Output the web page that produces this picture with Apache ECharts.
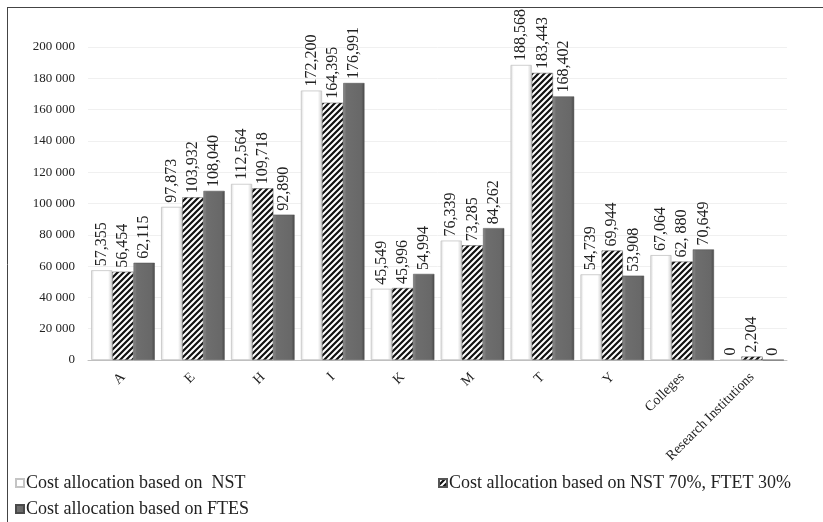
<!DOCTYPE html>
<html>
<head>
<meta charset="utf-8">
<script src="https://cdn.jsdelivr.net/npm/echarts@6/dist/echarts.min.js"></script>
<style>
  html, body { margin: 0; padding: 0; background: #fff; }
  #chart { width: 823px; height: 522px; }
</style>
</head>
<body>
<div id="chart"></div>
<script>
const categories = ['A', 'E', 'H', 'I', 'K', 'M', 'T', 'Y', 'Colleges', 'Research Institutions'];
const seriesNames = [
  'Cost allocation based on  NST',
  'Cost allocation based on NST 70%, FTET 30%',
  'Cost allocation based on FTES'
];
const nstValues = [57355, 97873, 112564, 172200, 45549, 76339, 188568, 54739, 67064, 0];
const mixValues = [56454, 103932, 109718, 164395, 45996, 73285, 183443, 69944, 62880, 2204];
const ftesValues = [62115, 108040, 92890, 176991, 54994, 84262, 168402, 53908, 70649, 0];
// the source prints one label with a stray space
const mixLabelText = { 8: '62, 880' };
const yTicks = { min: 0, max: 200000, interval: 20000 };

const serif = '"Liberation Serif", "DejaVu Serif", serif';

// diagonal hatch for the middle series
function hatchPattern() {
  const c = document.createElement('canvas');
  c.width = 6; c.height = 6;
  const ctx = c.getContext('2d');
  ctx.fillStyle = '#fff';
  ctx.fillRect(0, 0, 6, 6);
  ctx.strokeStyle = '#111';
  ctx.lineWidth = 2.2;
  ctx.beginPath();
  ctx.moveTo(-1, 7); ctx.lineTo(7, -1);
  ctx.moveTo(-4, 4); ctx.lineTo(4, -4);
  ctx.moveTo(2, 10); ctx.lineTo(10, 2);
  ctx.stroke();
  return c;
}

function fmtComma(v) {
  return String(v).replace(/\B(?=(\d{3})+(?!\d))/g, ',');
}

const whiteFill = new echarts.graphic.LinearGradient(0, 0, 1, 0, [
  { offset: 0, color: '#d9d9d9' },
  { offset: 0.15, color: '#ffffff' },
  { offset: 0.8, color: '#ffffff' },
  { offset: 1, color: '#cfcfcf' }
]);
const darkFill = new echarts.graphic.LinearGradient(0, 0, 1, 0, [
  { offset: 0, color: '#8c8c8c' },
  { offset: 0.15, color: '#6e6e6e' },
  { offset: 0.85, color: '#686868' },
  { offset: 1, color: '#4a4a4a' }
]);

const labelBase = {
  show: true,
  position: 'top',
  rotate: 90,
  align: 'left',
  verticalAlign: 'middle',
  distance: 4,
  fontFamily: serif,
  fontSize: 16,
  color: '#222'
};

const legendText = { fontFamily: serif, fontSize: 18, color: '#222', padding: [0, 0, 0, -3] };

const chart = echarts.init(document.getElementById('chart'));

const option = {
  animation: false,
  backgroundColor: '#fff',
  graphic: [
    { type: 'line', shape: { x1: 7, y1: 7.5, x2: 823, y2: 7.5 }, style: { stroke: '#444', lineWidth: 1 } },
    { type: 'line', shape: { x1: 7.5, y1: 7, x2: 7.5, y2: 522 }, style: { stroke: '#444', lineWidth: 1 } }
  ],
  legend: [
    { data: [seriesNames[0]], icon: 'rect', left: 10, top: 469, itemWidth: 8, itemHeight: 8, textStyle: legendText },
    { data: [seriesNames[1]], icon: 'rect', left: 433, top: 469, itemWidth: 8, itemHeight: 8, textStyle: legendText },
    { data: [seriesNames[2]], icon: 'rect', left: 10, top: 495, itemWidth: 8, itemHeight: 8, textStyle: legendText }
  ],
  grid: { left: 88, right: 36, top: 47, bottom: 162 },
  xAxis: {
    type: 'category',
    data: categories,
    axisLine: { lineStyle: { color: '#bfbfbf' } },
    axisTick: { show: false },
    axisLabel: {
      rotate: 45, interval: 0, margin: 15,
      fontFamily: serif, fontSize: 14, color: '#222'
    }
  },
  yAxis: {
    type: 'value',
    min: yTicks.min, max: yTicks.max, interval: yTicks.interval,
    axisLine: { show: false },
    axisTick: { show: false },
    splitLine: { lineStyle: { color: '#f0f0f0' } },
    axisLabel: {
      margin: 13,
      fontFamily: serif, fontSize: 13, color: '#222',
      formatter: v => String(v).replace(/\B(?=(\d{3})+(?!\d))/g, ' ')
    }
  },
  series: [
    {
      name: seriesNames[0], type: 'bar', data: nstValues,
      barGap: '0%', barCategoryGap: '9%',
      itemStyle: { color: whiteFill, borderColor: '#c4c4c4', borderWidth: 0.8 },
      label: Object.assign({}, labelBase, { formatter: p => fmtComma(p.value) })
    },
    {
      name: seriesNames[1], type: 'bar', data: mixValues,
      itemStyle: { color: { image: hatchPattern(), repeat: 'repeat' }, borderColor: '#555', borderWidth: 0.5 },
      label: Object.assign({}, labelBase, {
        formatter: p => mixLabelText[p.dataIndex] || fmtComma(p.value)
      })
    },
    {
      name: seriesNames[2], type: 'bar', data: ftesValues,
      itemStyle: { color: darkFill, borderColor: '#4a4a4a', borderWidth: 0.5 },
      label: Object.assign({}, labelBase, { formatter: p => fmtComma(p.value) })
    }
  ]
};

chart.setOption(option);
</script>
</body>
</html>
